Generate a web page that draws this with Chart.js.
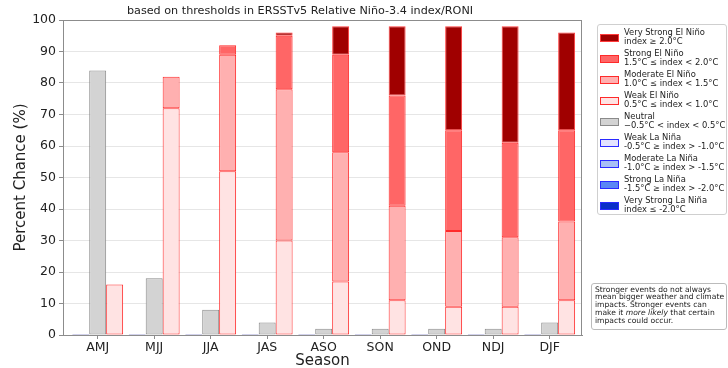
<!DOCTYPE html>
<html lang="en">
<head>
<meta charset="UTF-8">
<title>ENSO Probabilities</title>
<script src="https://cdn.jsdelivr.net/npm/chart.js"></script>
<style>
  html, body { margin: 0; padding: 0; background: #fff; }
  #wrap { position: relative; width: 728px; height: 368px; font-family: "DejaVu Sans", sans-serif; color: #222; }
  #chart { position: absolute; left: 0; top: 0; }
  #legend { position: absolute; left: 597px; top: 24px; width: 130px; height: 191px; box-sizing: border-box;
            border: 1px solid #cfcfcf; border-radius: 3px; font-size: 8.4px; line-height: 9px; }
  .item { position: absolute; left: 0; width: 128px; height: 20px; }
  .sw { position: absolute; left: 2px; top: 6px; width: 17px; height: 6px; border: 1px solid; }
  .txt { position: absolute; left: 26px; top: 0; white-space: nowrap; }
  #note { position: absolute; left: 591px; top: 283px; width: 136px; height: 47px; box-sizing: border-box;
          border: 1px solid #bbb; border-radius: 3px; font-size: 7.6px; line-height: 7.8px; padding: 1.5px 3px; white-space: nowrap; }
</style>
</head>
<body>
<div id="wrap">
  <canvas id="chart" width="728" height="368"></canvas>
  <div id="legend"></div>
  <div id="note">Stronger events do not always<br>mean bigger weather and climate<br>impacts. Stronger events can<br>make it <i>more likely</i> that certain<br>impacts could occur.</div>
</div>
<script>
// Seasons
const seasons = ['AMJ', 'MJJ', 'JJA', 'JAS', 'ASO', 'SON', 'OND', 'NDJ', 'DJF'];

// Percent chance per category
const vsNina   = [0, 0, 0, 0, 0, 0, 0, 0, 0];
const stNina   = [0, 0, 0, 0, 0, 0, 0, 0, 0];
const modNina  = [0, 0, 0, 0, 0, 0, 0, 0, 0];
const weakNina = [0, 0, 0, 0, 0, 0, 0, 0, 0];
const neutral  = [84, 18, 8, 4, 2, 2, 2, 2, 4];
const weakNino = [16, 72, 52, 30, 17, 11, 9, 9, 11];
const modNino  = [0, 10, 37, 48, 41, 30, 24, 22, 25];
const stNino   = [0, 0, 3, 17, 31, 35, 32, 30, 29];
const vsNino   = [0, 0, 0, 1, 9, 22, 33, 37, 31];

const yTicks = [0, 10, 20, 30, 40, 50, 60, 70, 80, 90, 100];

const titleText = 'based on thresholds in ERSSTv5 Relative Niño-3.4 index/RONI';

// legend entries (top to bottom)
const legendItems = [
  ['Very Strong El Niño', 'index ≥ 2.0°C', '#a00000', '#ff3b3b'],
  ['Strong El Niño', '1.5°C ≤ index < 2.0°C', '#ff6666', '#ff2a2a'],
  ['Moderate El Niño', '1.0°C ≤ index < 1.5°C', '#ffb0b0', '#ff2a2a'],
  ['Weak El Niño', '0.5°C ≤ index < 1.0°C', '#ffe3e3', '#ff2a2a'],
  ['Neutral', '\u22120.5°C < index < 0.5°C', '#d3d3d3', '#8a8a8a'],
  ['Weak La Niña', '-0.5°C ≥ index > -1.0°C', '#e3e3ff', '#2a2aff'],
  ['Moderate La Niña', '-1.0°C ≥ index > -1.5°C', '#a8bff5', '#2a2aff'],
  ['Strong La Niña', '-1.5°C ≥ index > -2.0°C', '#5a86f5', '#2a2aff'],
  ['Very Strong La Niña', 'index ≤ -2.0°C', '#0a2fc8', '#2a2aff']
];

const legend = document.getElementById('legend');
legendItems.forEach(function (it, i) {
  const d = document.createElement('div');
  d.className = 'item';
  d.style.top = (3 + i * 21) + 'px';
  d.innerHTML = '<span class="sw" style="background:' + it[2] + ';border-color:' + it[3] + '"></span>' +
                '<span class="txt">' + it[0] + '<br>' + it[1] + '</span>';
  legend.appendChild(d);
});

function ds(label, data, stack, bg, border, extra) {
  return Object.assign({ label: label, data: data, stack: stack, backgroundColor: bg,
    borderColor: border, borderWidth: 1, borderSkipped: false }, extra || {});
}

const datasets = [
  ds('Very Strong La Niña', vsNina, 'nina', '#0a2fc8', '#4a4ab0', { minBarLength: 1 }),
  ds('Strong La Niña', stNina, 'nina', '#5a86f5', '#2a2aff'),
  ds('Moderate La Niña', modNina, 'nina', '#a8bff5', '#2a2aff'),
  ds('Weak La Niña', weakNina, 'nina', '#e3e3ff', '#2a2aff'),
  ds('Neutral', neutral, 'neutral', '#d3d3d3', '#8a8a8a'),
  ds('Weak El Niño', weakNino, 'nino', '#ffe3e3', '#ff2a2a'),
  ds('Moderate El Niño', modNino, 'nino', '#ffb0b0', '#ff2a2a'),
  ds('Strong El Niño', stNino, 'nino', '#ff6666', '#ff2a2a'),
  ds('Very Strong El Niño', vsNino, 'nino', '#a00000', '#ff3b3b')
];

// widen the x range a bit like the matplotlib axes
const xShift = {
  id: 'xShift',
  afterLayout(chart) {
    const x = chart.scales.x;
    x._startValue = -0.614;
    x._valueRange = 9.186;
  }
};

// axes frame on all four sides + title
const frame = {
  id: 'frame',
  afterDraw(chart) {
    const a = chart.chartArea, c = chart.ctx;
    c.save();
    c.strokeStyle = '#8c8c8c';
    c.lineWidth = 1;
    c.strokeRect(a.left + 0.5, a.top + 0.5, a.right - a.left - 1, a.bottom - a.top);
    c.fillStyle = '#222';
    c.font = '11.2px "DejaVu Sans", sans-serif';
    c.textAlign = 'center';
    c.textBaseline = 'middle';
    c.fillText(titleText, 300, 11);
    c.restore();
  }
};

Chart.defaults.font.family = '"DejaVu Sans", sans-serif';
Chart.defaults.color = '#222';

new Chart(document.getElementById('chart'), {
  type: 'bar',
  data: { labels: seasons, datasets: datasets },
  options: {
    responsive: false,
    animation: false,
    layout: { padding: { left: 0, right: 146, top: 20, bottom: 0 } },
    datasets: { bar: { categoryPercentage: 0.9, barPercentage: 1.0 } },
    plugins: {
      legend: { display: false },
      tooltip: { enabled: false },
      title: { display: false }
    },
    scales: {
      x: {
        stacked: true,
        grid: { display: true, drawOnChartArea: false, offset: false, tickLength: 4, tickColor: '#8c8c8c' },
        border: { color: '#8c8c8c' },
        ticks: { font: { size: 12.5 }, color: '#222', padding: 1, maxRotation: 0 },
        title: { display: true, text: 'Season', font: { size: 15, lineHeight: 1 }, color: '#222', padding: { top: 0, bottom: -1 } },
        afterFit(s) { s.height = 33; }
      },
      y: {
        stacked: true,
        min: 0,
        max: 100,
        afterBuildTicks(s) { s.ticks = yTicks.map(v => ({ value: v })); },
        grid: { color: '#e6e6e6', tickLength: 4, tickColor: '#8c8c8c' },
        border: { color: '#8c8c8c' },
        ticks: { font: { size: 12.5 }, color: '#222', padding: 3 },
        title: { display: true, text: 'Percent Chance (%)', font: { size: 15 }, color: '#222', padding: { top: 12 } },
        afterFit(s) { s.width = 63; }
      }
    }
  },
  plugins: [xShift, frame]
});
</script>
</body>
</html>
